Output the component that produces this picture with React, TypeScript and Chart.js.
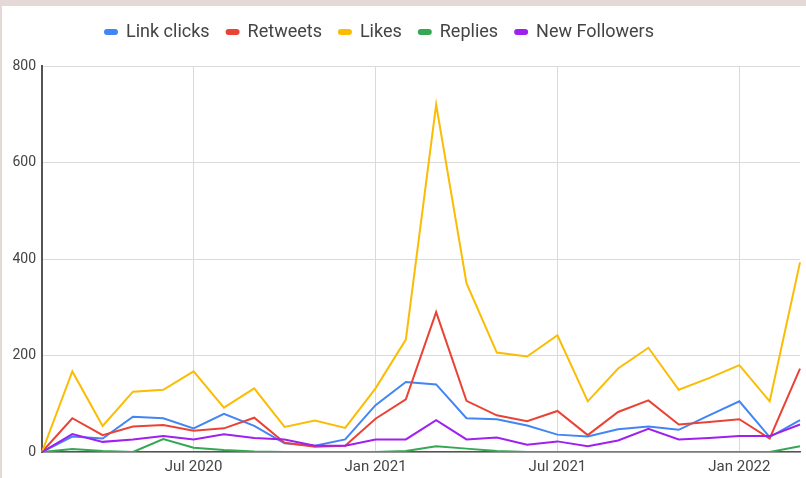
import React, { useEffect, useRef } from "react";
import { Chart, registerables } from "chart.js";

Chart.register(...registerables);

const MONTHS = [
  "Feb 2020", "Mar 2020", "Apr 2020", "May 2020", "Jun 2020", "Jul 2020",
  "Aug 2020", "Sep 2020", "Oct 2020", "Nov 2020", "Dec 2020", "Jan 2021",
  "Feb 2021", "Mar 2021", "Apr 2021", "May 2021", "Jun 2021", "Jul 2021",
  "Aug 2021", "Sep 2021", "Oct 2021", "Nov 2021", "Dec 2021", "Jan 2022",
  "Feb 2022", "Mar 2022",
];
const TICK_LABELS = ["Jul 2020", "Jan 2021", "Jul 2021", "Jan 2022"];
const Y_TICKS = [0, 200, 400, 600, 800];

const LINK_CLICKS = [0, 32, 28, 73, 70, 49, 79, 54, 18, 13, 26, 97, 145, 140, 70, 68, 55, 36, 32, 47, 53, 46, 76, 105, 31, 66];
const RETWEETS = [0, 70, 35, 53, 56, 44, 49, 71, 19, 11, 13, 69, 109, 290, 106, 76, 64, 85, 35, 83, 107, 57, 62, 68, 28, 173];
const LIKES = [0, 167, 54, 125, 129, 167, 92, 132, 52, 65, 50, 132, 233, 720, 350, 206, 198, 242, 105, 173, 216, 129, 153, 180, 105, 393];
const REPLIES = [0, 6, 2, 0, 27, 9, 4, 1, 0, 0, 0, 0, 2, 12, 7, 2, 0, 0, 0, 0, 0, 0, 0, 0, 0, 12];
const NEW_FOLLOWERS = [0, 37, 21, 26, 33, 26, 37, 29, 26, 13, 13, 26, 26, 66, 26, 30, 15, 22, 12, 24, 48, 26, 29, 33, 33, 57];

const SERIES_NAMES = ["Link clicks", "Retweets", "Likes", "Replies", "New Followers"];
const SERIES_COLORS = ["#4285F4", "#EA4335", "#FBBC04", "#34A853", "#A020F0"];

export default function App() {
  const canvasRef = useRef<HTMLCanvasElement | null>(null);

  useEffect(() => {
    const canvas = canvasRef.current;
    if (!canvas) return;
    const values = [LINK_CLICKS, RETWEETS, LIKES, REPLIES, NEW_FOLLOWERS];
    const legendHeight = {
      id: "legendHeight",
      beforeInit(chart: any) {
        const legend = chart.legend;
        if (!legend) return;
        const orig = legend.fit;
        legend.fit = function () {
          orig.call(this);
          this.height = 60;
        };
      },
      afterLayout(chart: any) {
        const legend = chart.legend;
        if (!legend) return;
        legend.left -= 24;
        legend.right -= 24;
      },
    };
    const chart = new Chart(canvas, {
      type: "line",
      data: {
        labels: MONTHS,
        datasets: SERIES_NAMES.map((name, i) => ({
          label: name,
          data: values[i],
          borderColor: SERIES_COLORS[i],
          backgroundColor: SERIES_COLORS[i],
          borderWidth: 2,
          pointRadius: 0,
          tension: 0,
          order: SERIES_NAMES.length - i,
        })),
      },
      options: {
        animation: false,
        responsive: true,
        maintainAspectRatio: false,
        layout: { padding: { top: 0, left: 0, right: 1, bottom: 0 } },
        plugins: {
          tooltip: { enabled: false },
          legend: {
            position: "top",
            align: "center",
            labels: {
              boxWidth: 12,
              boxHeight: 4,
              useBorderRadius: true,
              borderRadius: 2,
              padding: 17,
              color: "#444",
              font: { family: "Roboto", size: 18 },
              sort: (a: any, b: any) => a.datasetIndex - b.datasetIndex,
            },
          },
        },
        scales: {
          x: {
            type: "category",
            offset: false,
            afterFit: (scale: any) => {
              scale.height = 26;
            },
            border: { display: true, color: "#555", width: 1.5 },
            grid: {
              drawTicks: false,
              color: (ctx: any) =>
                TICK_LABELS.includes(MONTHS[ctx.index]) ? "#dadada" : "rgba(0,0,0,0)",
              lineWidth: 1,
            },
            ticks: {
              autoSkip: false,
              maxRotation: 0,
              minRotation: 0,
              padding: 6,
              color: "#444",
              font: { family: "Roboto", size: 15 },
              callback: (_v: any, i: number) =>
                TICK_LABELS.includes(MONTHS[i]) ? MONTHS[i] : "",
            },
          },
          y: {
            min: 0,
            max: 800,
            afterFit: (scale: any) => {
              scale.width = 40;
            },
            afterBuildTicks: (scale: any) => {
              scale.ticks = Y_TICKS.map((v) => ({ value: v }));
            },
            border: { display: true, color: "#555", width: 2 },
            grid: { drawTicks: false, color: "#dadada", lineWidth: 1 },
            ticks: {
              padding: 6,
              color: "#444",
              font: { family: "Roboto", size: 14 },
            },
          },
        },
      },
      plugins: [legendHeight],
    });
    return () => chart.destroy();
  }, []);

  return (
    <div
      style={{
        position: "fixed",
        left: 0,
        top: 0,
        width: 806,
        height: 478,
        background: "#e5d9d8",
        overflow: "hidden",
      }}
    >
      <div
        style={{
          position: "absolute",
          left: 2,
          top: 6,
          width: 804,
          height: 472,
          background: "#ffffff",
        }}
      >
        <canvas ref={canvasRef} />
      </div>
    </div>
  );
}
